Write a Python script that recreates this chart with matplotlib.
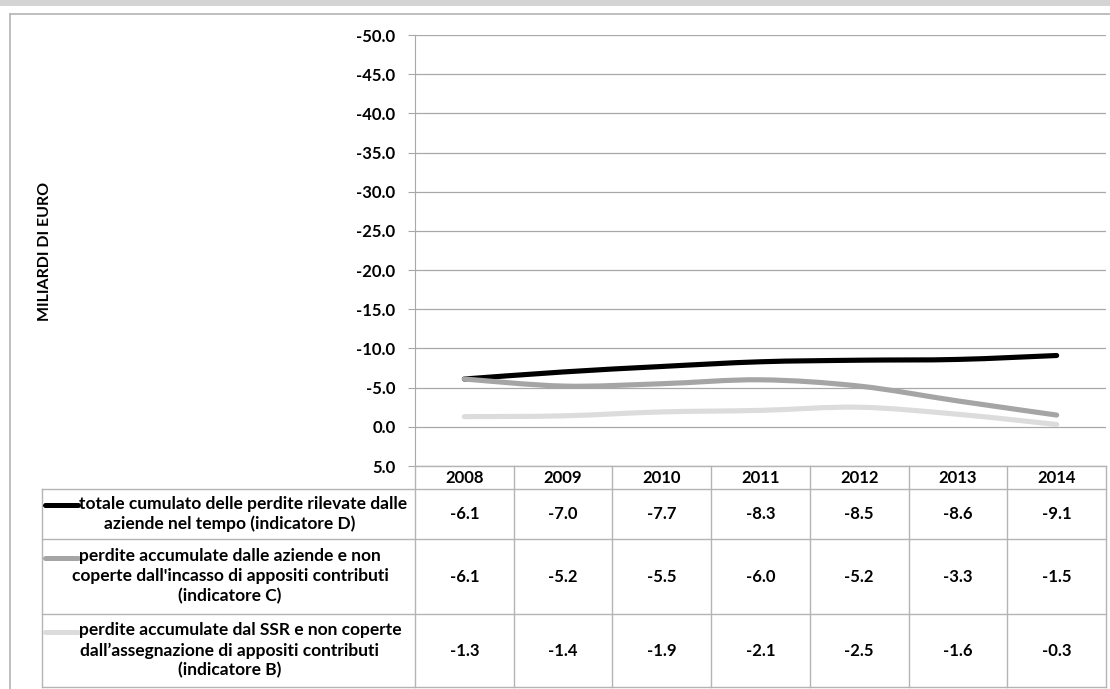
import matplotlib.pyplot as plt
import numpy as np
from matplotlib.path import Path
from matplotlib.patches import PathPatch, Rectangle
from matplotlib.lines import Line2D

plt.rcParams['font.family'] = ['Lato', 'DejaVu Sans']

# Data (miliardi di euro)
years = ['2008', '2009', '2010', '2011', '2012', '2013', '2014']
indicatore_d = [-6.1, -7.0, -7.7, -8.3, -8.5, -8.6, -9.1]
indicatore_c = [-6.1, -5.2, -5.5, -6.0, -5.2, -3.3, -1.5]
indicatore_b = [-1.3, -1.4, -1.9, -2.1, -2.5, -1.6, -0.3]
series = [indicatore_d, indicatore_c, indicatore_b]
series_labels = [
    ['totale cumulato delle perdite rilevate dalle', 'aziende nel tempo (indicatore D)'],
    ['perdite accumulate dalle aziende e non', "coperte dall'incasso di appositi contributi",
     '(indicatore C)'],
    ['perdite accumulate dal SSR e non coperte',
     'dall\u2019assegnazione di appositi contributi', '(indicatore B)'],
]
series_colors = ['#000000', '#a5a5a5', '#dcdcdc']
y_ticks = np.arange(-50, 10, 5)

W, H = 1110, 689
fig = plt.figure(figsize=(W / 100, H / 100), dpi=100)


def fx(x):
    return x / W


def fy(y):
    return 1 - y / H


# window strip and chart frame
fig.patches.append(Rectangle((0, fy(6)), 1, 6 / H, transform=fig.transFigure,
                             facecolor='#d4d4d4', edgecolor='none'))
fig.add_artist(Line2D([fx(10), 1], [fy(14), fy(14)], color='#b4b4b4', lw=1.2))
fig.add_artist(Line2D([fx(10), fx(10)], [fy(14), 0], color='#b4b4b4', lw=1.2))

ax = fig.add_axes([fx(415), fy(466), fx(1106) - fx(415), fy(35) - fy(466)])
x = np.arange(len(years))


def smooth_path(xs, ys):
    # smoothed line through the points (cubic Bezier, Catmull-Rom tangents)
    pts = np.column_stack([xs, ys]).astype(float)
    ext = np.vstack([pts[0], pts, pts[-1]])
    verts, codes = [pts[0]], [Path.MOVETO]
    for i in range(len(pts) - 1):
        p0, p1, p2, p3 = ext[i], ext[i + 1], ext[i + 2], ext[i + 3]
        verts += [p1 + (p2 - p0) / 6, p2 - (p3 - p1) / 6, p2]
        codes += [Path.CURVE4] * 3
    return Path(verts, codes)


for vals, col in zip(series, series_colors):
    ax.add_patch(PathPatch(smooth_path(x, vals), fill=False, edgecolor=col,
                           lw=3.7, capstyle='round', joinstyle='round', zorder=3))

ax.set_xlim(-0.5, len(years) - 0.5)
ax.set_ylim(5, -50)
ax.set_yticks(y_ticks)
ax.set_yticklabels([f'{v:.1f}' for v in y_ticks], fontsize=12, fontweight='bold')
ax.set_xticks([])
ax.grid(axis='y', color='#a8a8a8', lw=0.9)
ax.set_axisbelow(True)
for s in ['top', 'right', 'bottom']:
    ax.spines[s].set_visible(False)
ax.spines['left'].set_color('#a8a8a8')
ax.tick_params(axis='y', length=5, color='#a8a8a8', pad=9)

fig.text(fx(45), fy(251), 'MILIARDI DI EURO', rotation=90, ha='center', va='center',
         fontsize=11.5, fontweight='bold')

# data table under the plot
to_fig = ax.transData + fig.transFigure.inverted()
col_edges = [to_fig.transform((e, 0))[0] for e in np.arange(-0.5, len(years), 1.0)]
col_mid = [to_fig.transform((c, 0))[0] for c in x]
grid_col = '#b4b4b4'
row_edges = [489, 539, 614, 687]
left = fx(42)

fig.add_artist(Line2D([col_edges[0], col_edges[-1]], [fy(466), fy(466)], color=grid_col, lw=1))
for ry in row_edges:
    fig.add_artist(Line2D([left, col_edges[-1]], [fy(ry), fy(ry)], color=grid_col, lw=1))
for ex in col_edges:
    fig.add_artist(Line2D([ex, ex], [fy(466), fy(687)], color=grid_col, lw=1))
fig.add_artist(Line2D([left, left], [fy(489), fy(687)], color=grid_col, lw=1))

for xm, yr in zip(col_mid, years):
    fig.text(xm, fy(478), yr, ha='center', va='center', fontsize=12, fontweight='bold')

renderer = fig.canvas.get_renderer()
key_x0, key_x1 = 45, 78
line_step = 20
label_mid = fx(230)
for i, (vals, lines, col) in enumerate(zip(series, series_labels, series_colors)):
    top, bot = row_edges[i], row_edges[i + 1]
    ymid = (top + bot) / 2
    first_y = ymid - line_step * (len(lines) - 1) / 2
    for j, line in enumerate(lines):
        t = fig.text(label_mid, fy(first_y + j * line_step), line, ha='center',
                     va='center', fontsize=12.5, fontweight='bold')
        if j == 0:
            # keep the first line clear of the legend key
            bb = t.get_window_extent(renderer)
            if bb.x0 < key_x1 + 1:
                t.set_x(fx((bb.x0 + bb.x1) / 2 + key_x1 + 1 - bb.x0))
    ky = first_y + 1
    fig.add_artist(Line2D([fx(key_x0), fx(key_x1)], [fy(ky), fy(ky)], color=col,
                          lw=3.6, solid_capstyle='round'))
    for xm, v in zip(col_mid, vals):
        fig.text(xm, fy(ymid), f'{v:.1f}', ha='center', va='center', fontsize=12,
                 fontweight='bold')

fig.savefig('out.png', dpi=100)
